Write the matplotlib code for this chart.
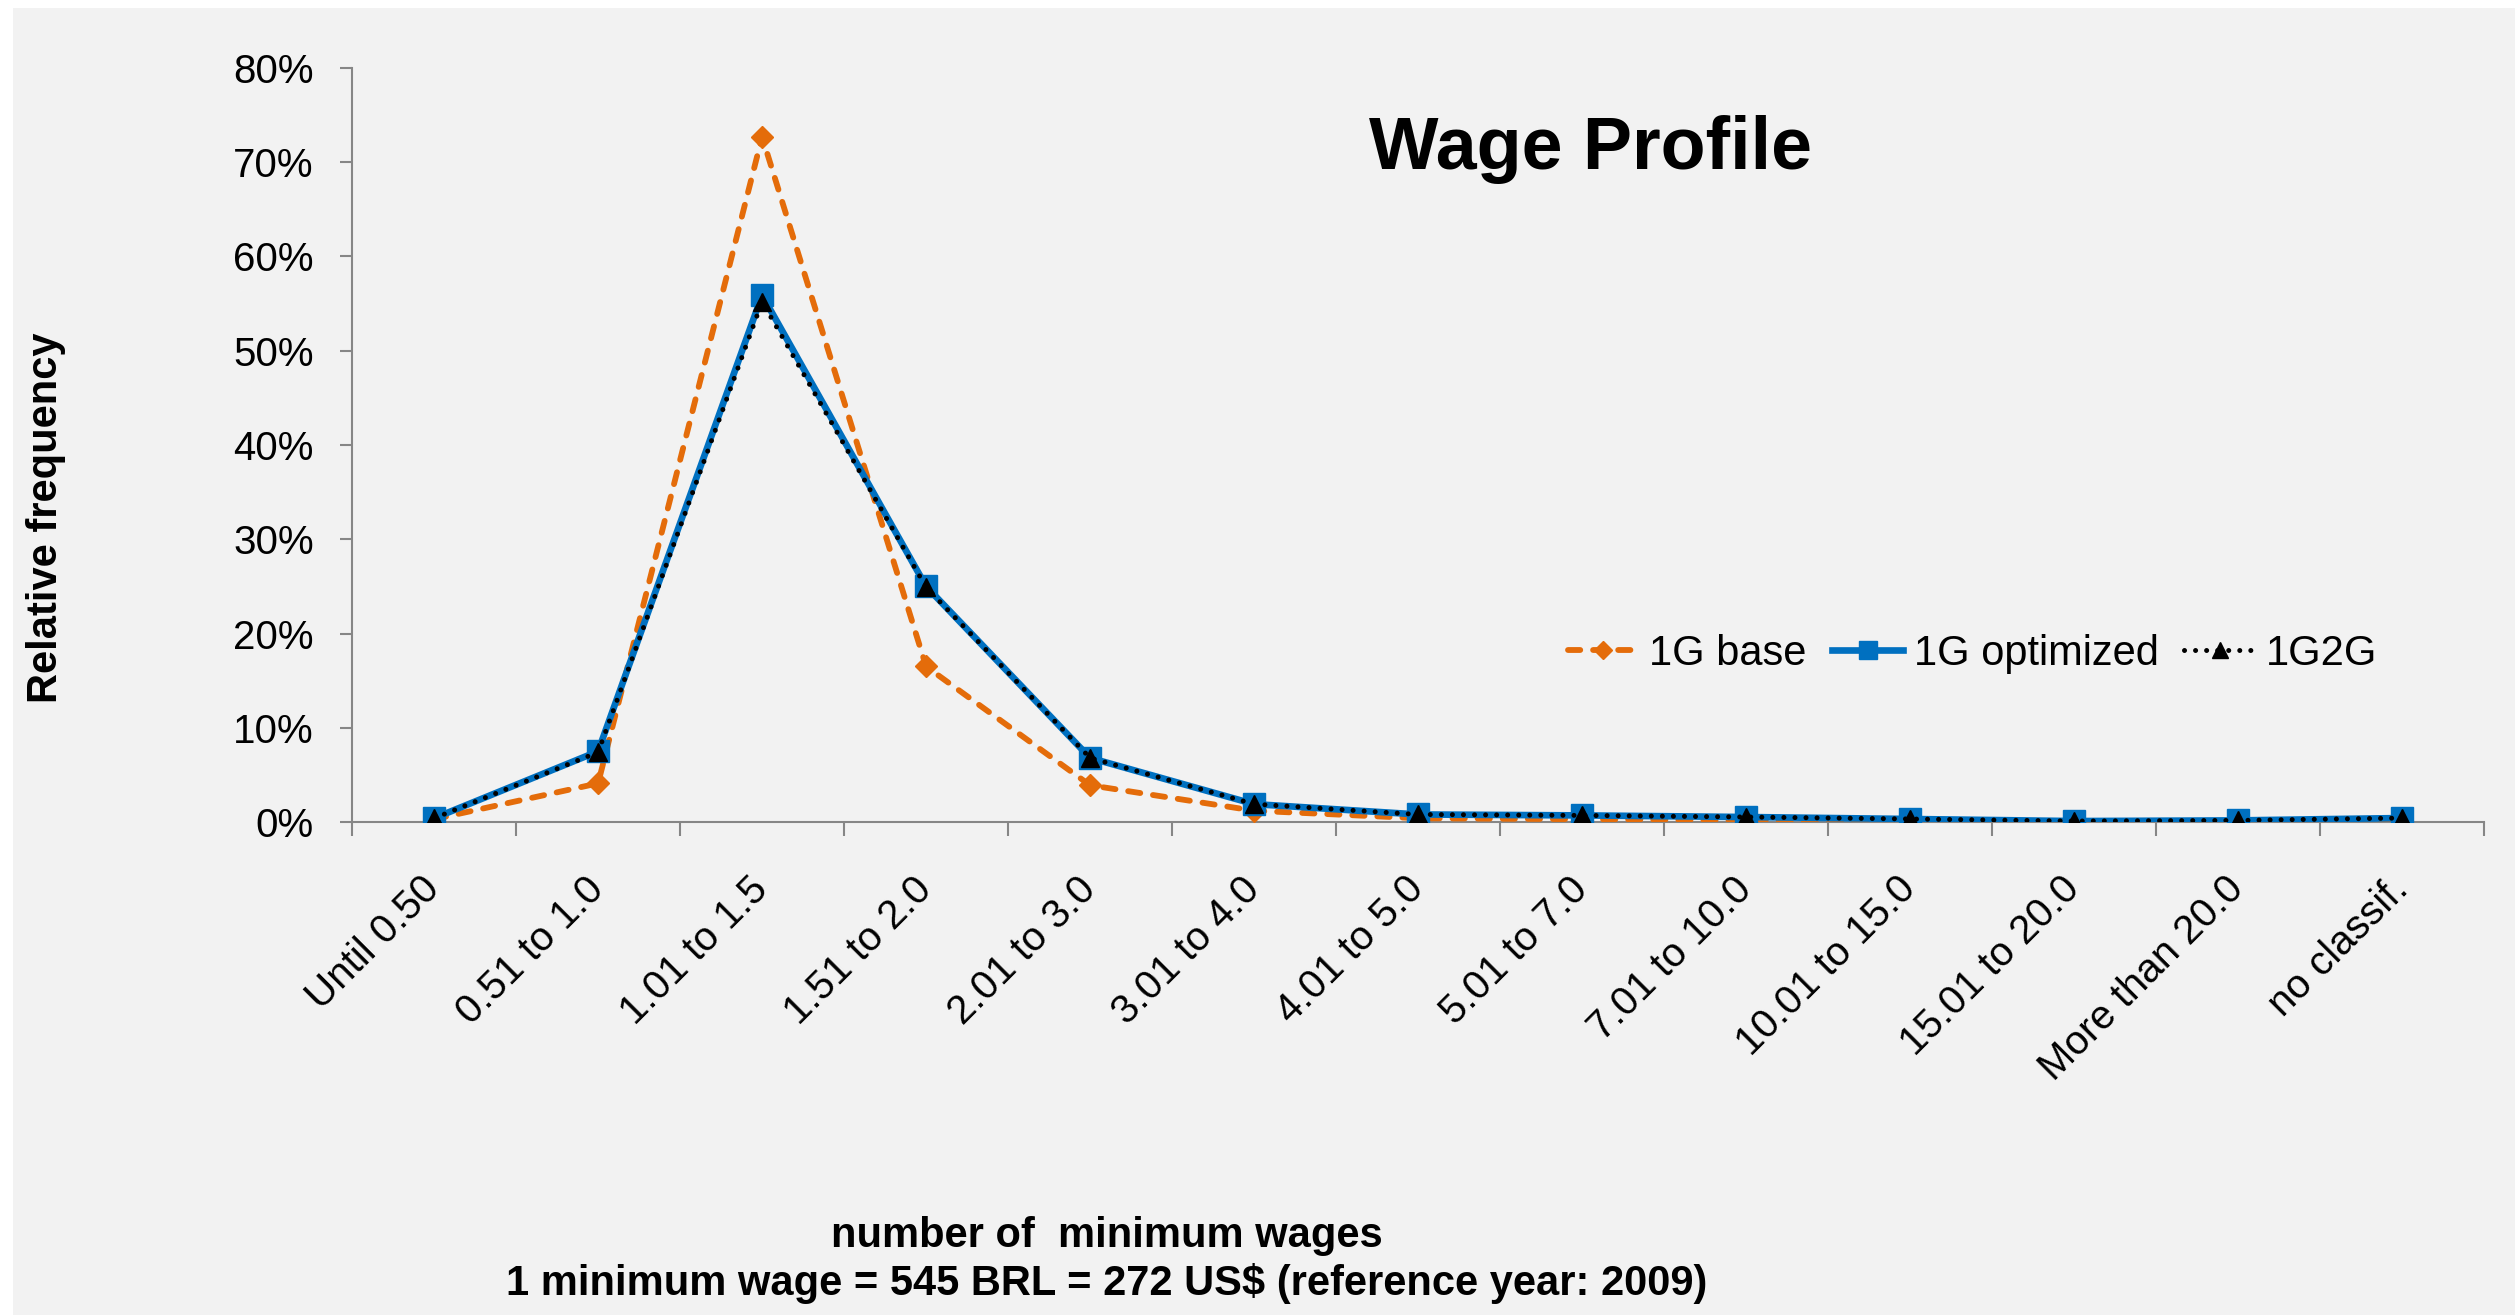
import matplotlib
matplotlib.use('Agg')
import matplotlib.pyplot as plt
from matplotlib.ticker import PercentFormatter
from matplotlib.patches import Rectangle

categories = ['Until 0.50', '0.51 to 1.0', '1.01 to 1.5', '1.51 to 2.0', '2.01 to 3.0',
              '3.01 to 4.0', '4.01 to 5.0', '5.01 to 7.0', '7.01 to 10.0', '10.01 to 15.0',
              '15.01 to 20.0', 'More than 20.0', 'no classif.']
base = [0.003, 0.041, 0.727, 0.165, 0.039, 0.012, 0.004, 0.003, 0.002, 0.001, 0.0005, 0.0005, 0.002]
optimized = [0.004, 0.075, 0.559, 0.250, 0.068, 0.019, 0.008, 0.007, 0.0053, 0.0032, 0.001, 0.0017, 0.0042]
g1g2 = [0.004, 0.074, 0.552, 0.249, 0.068, 0.019, 0.008, 0.007, 0.0053, 0.0032, 0.001, 0.0017, 0.0042]

plt.rcParams['font.family'] = ['Liberation Sans', 'DejaVu Sans']

fig = plt.figure(figsize=(25.15, 13.15), dpi=100, facecolor='white')
fig.patches.append(Rectangle((13 / 2515, 0), 1, 1 - 8 / 1315, transform=fig.transFigure,
                             facecolor='#f2f2f2', edgecolor='none', zorder=-10))

ax = fig.add_axes([0.140, 0.3749, 0.8477, 0.5734])
ax.set_facecolor('none')

x = list(range(len(categories)))
ax.plot(x, base, color='#E46C0A', linestyle=(0, (2.1, 2.2)), linewidth=4.2,
        dash_capstyle='round', marker='D', markersize=11, label='1G base', zorder=3)
ax.plot(x, optimized, color='#0070C0', linestyle='-', linewidth=4.8,
        marker='s', markersize=15.5, label='1G optimized', zorder=4)
ax.plot(x, g1g2, color='black', linestyle=(0, (0.01, 2.2)), linewidth=3.6,
        dash_capstyle='round', marker='^', markersize=13, label='1G2G', zorder=5)

ax.set_xlim(-0.5, len(categories) - 0.5)
ax.set_ylim(0, 0.8)
ax.yaxis.set_major_formatter(PercentFormatter(1, decimals=0))
ax.set_yticks([i / 10 for i in range(9)])

ax.set_xticks([i - 0.5 for i in range(len(categories) + 1)])
ax.set_xticklabels([])
ax.set_xticks(x, minor=True)
ax.set_xticklabels(categories, minor=True, rotation=45, ha='right', va='center',
                   rotation_mode='anchor', fontsize=29)
ax.tick_params(axis='x', which='minor', length=0, pad=44)
ax.tick_params(axis='x', which='major', length=10, width=1.5, color='#868686')
ax.tick_params(axis='y', length=8.6, width=1.5, color='#868686', labelsize=29, pad=19)

for s in ['top', 'right']:
    ax.spines[s].set_visible(False)
for s in ['left', 'bottom']:
    ax.spines[s].set_color('#868686')
    ax.spines[s].set_linewidth(1.5)

fig.text(0.6326, 0.886, 'Wage Profile', fontsize=53, fontweight='bold', ha='center', va='center')

fig.text(0.0183, 0.606, 'Relative frequency', rotation=90, fontsize=30, fontweight='bold',
         ha='center', va='center')

fig.text(0.440, 0.0418, 'number of  minimum wages\n1 minimum wage = 545 BRL = 272 US$ (reference year: 2009)',
         fontsize=30, fontweight='bold', ha='center', va='center', linespacing=1.2)

ax.legend(loc='center', bbox_to_anchor=(0.760, 0.223), ncol=3, frameon=False, fontsize=30,
          handlelength=1.7, handletextpad=0.25, columnspacing=0.62, markerscale=0.85,
          borderaxespad=0)

plt.savefig('out.png', dpi=100, facecolor=fig.get_facecolor())
